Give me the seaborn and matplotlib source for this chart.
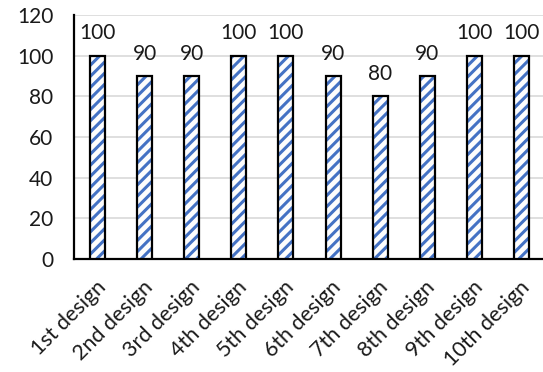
import matplotlib
matplotlib.use("Agg")
import matplotlib.pyplot as plt
import matplotlib.transforms as mtransforms
import seaborn as sns
import pandas as pd
from matplotlib.patches import Rectangle

designs = ["1st design", "2nd design", "3rd design", "4th design", "5th design",
           "6th design", "7th design", "8th design", "9th design", "10th design"]
scores = [100, 90, 90, 100, 100, 90, 80, 90, 100, 100]
y_ticks = [0, 20, 40, 60, 80, 100, 120]

df = pd.DataFrame({"design": designs, "score": scores})

sns.set_theme(style="white")
plt.rcParams["font.family"] = ["Lato", "DejaVu Sans"]
plt.rcParams["hatch.linewidth"] = 2.2

blue = "#4472C4"
text_color = "#1a1a1a"

fig = plt.figure(figsize=(5.43, 3.72), dpi=100)
ax = fig.add_axes([74 / 543, 1 - 259 / 372, 471 / 543, (259 - 15) / 372])

sns.barplot(data=df, x="design", y="score", color="white", width=0.32,
            saturation=1, ax=ax, zorder=3)

for p in list(ax.patches):
    p.set_facecolor("#fdfdfd")
    p.set_edgecolor(blue)
    p.set_hatch("///")
    p.set_linewidth(0)
    outline = Rectangle(p.get_xy(), p.get_width(), p.get_height(),
                        fill=False, edgecolor="black", linewidth=1.6, zorder=4)
    ax.add_patch(outline)
    ax.annotate(f"{p.get_height():.0f}",
                (p.get_x() + p.get_width() / 2, p.get_height()),
                xytext=(0, 9), textcoords="offset points",
                ha="center", va="bottom", fontsize=15, color=text_color)

ax.set_ylim(0, 120)
ax.set_xlim(-0.5, 9.5)
ax.set_yticks(y_ticks)
ax.yaxis.grid(True, color="#d9d9d9", linewidth=1.2, zorder=0)
ax.set_axisbelow(True)
ax.set_xlabel("")
ax.set_ylabel("")
for s in ["top", "right"]:
    ax.spines[s].set_visible(False)
for s in ["left", "bottom"]:
    ax.spines[s].set_color("black")
    ax.spines[s].set_linewidth(1.6)
ax.tick_params(axis="both", length=0, colors=text_color)
ax.tick_params(axis="y", pad=15, labelsize=15)
ax.tick_params(axis="x", pad=18, labelsize=15.5)

shift = mtransforms.ScaledTranslation(5 / 100, 0, fig.dpi_scale_trans)
for lbl in ax.get_xticklabels():
    lbl.set_rotation(45)
    lbl.set_ha("right")
    lbl.set_va("center")
    lbl.set_rotation_mode("anchor")
    lbl.set_transform(lbl.get_transform() + shift)

fig.savefig("out.png", dpi=100)
